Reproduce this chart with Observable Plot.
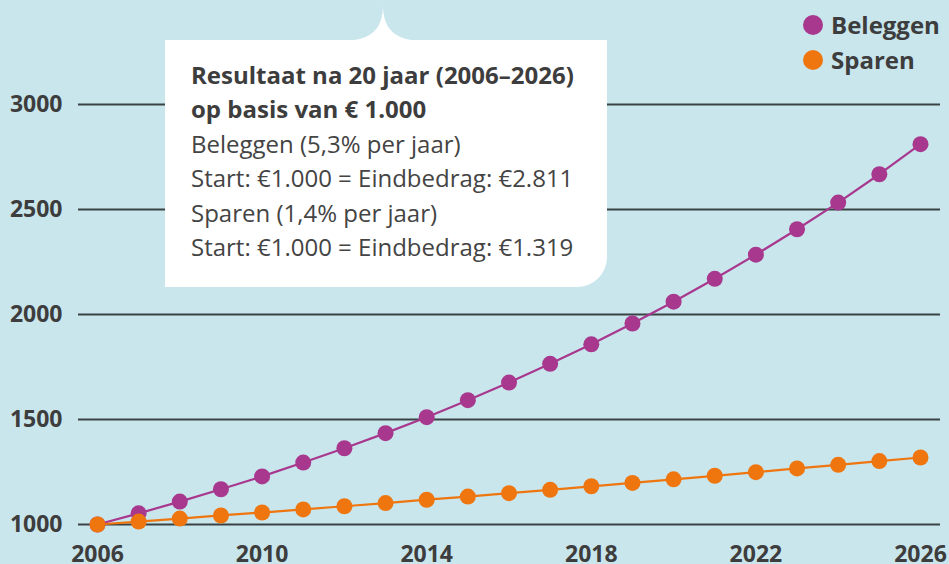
<!DOCTYPE html>
<html>
<head>
<meta charset="utf-8">
<script src="https://cdn.jsdelivr.net/npm/d3@7"></script>
<script src="https://cdn.jsdelivr.net/npm/@observablehq/plot@0.6"></script>
<style>
  html, body { margin: 0; padding: 0; background: #c9e6ed; }
  #wrap { position: relative; width: 949px; height: 564px; overflow: hidden; font-family: "Open Sans", sans-serif; color: #3d3d3d; }
  #tip { position: absolute; left: 165px; top: 40px; width: 442px; height: 247px; background: #fff; border-radius: 0 0 30px 0; box-sizing: border-box; padding: 18px 0 0 26px; font-size: 24px; line-height: 34.4px; color: #444; white-space: nowrap; }
  #tip b { font-weight: 700; color: #3d3d3d; }
  #notch { position: absolute; left: 0; top: 0; }
  #legend { position: absolute; left: 803px; top: 7px; font-size: 24px; font-weight: 700; line-height: 35px; color: #3d3d3d; }
  #legend div { display: flex; align-items: center; }
  #legend span.dot { display: inline-block; width: 20px; height: 20px; border-radius: 50%; margin-right: 8px; }
</style>
</head>
<body>
<div id="wrap"></div>
<script>
const years = [2006,2007,2008,2009,2010,2011,2012,2013,2014,2015,2016,2017,2018,2019,2020,2021,2022,2023,2024,2025,2026];
const beleggen = [1000,1053,1109,1168,1229,1295,1363,1435,1511,1592,1676,1765,1858,1957,2061,2170,2285,2406,2533,2668,2811];
const sparen = [1000,1014,1028,1043,1057,1072,1087,1102,1118,1133,1149,1165,1182,1198,1215,1232,1249,1267,1284,1302,1319];
const seriesNames = ["Beleggen", "Sparen"];
const seriesColors = ["#a8388e", "#ef760f"];
const yTicks = [1000,1500,2000,2500,3000];
const xTicks = [2006,2010,2014,2018,2022,2026];
const tipTitle = ["Resultaat na 20 jaar (2006–2026)", "op basis van € 1.000"];
const tipLines = ["Beleggen (5,3% per jaar)", "Start: €1.000 = Eindbedrag: €2.811", "Sparen (1,4% per jaar)", "Start: €1.000 = Eindbedrag: €1.319"];

const data = [];
years.forEach((y, i) => {
  data.push({year: y, value: beleggen[i], series: seriesNames[0]});
});
years.forEach((y, i) => {
  data.push({year: y, value: sparen[i], series: seriesNames[1]});
});

const chart = Plot.plot({
  width: 949,
  height: 564,
  marginLeft: 97,
  marginRight: 29,
  marginTop: 104,
  marginBottom: 40,
  style: { background: "#c9e6ed", fontFamily: "Open Sans, sans-serif", fontSize: "23px", fontWeight: "700", color: "#3d3d3d", overflow: "visible" },
  x: { domain: [2006, 2026], label: null },
  y: { domain: [1000, 3000], label: null },
  color: { domain: seriesNames, range: seriesColors },
  marks: [
    Plot.ruleY(yTicks, { stroke: "#3a4244", strokeWidth: 2, insetLeft: -19, insetRight: -20 }),
    Plot.axisY({ ticks: yTicks, tickSize: 0, tickPadding: 35, tickFormat: "d", fontSize: 23, fontWeight: "bold", label: null }),
    Plot.axisX({ ticks: xTicks, tickSize: 0, tickPadding: 21, tickFormat: "d", fontSize: 23, fontWeight: "bold", label: null }),
    Plot.line(data, { x: "year", y: "value", z: "series", stroke: "series", strokeWidth: 2.2 }),
    Plot.dot(data, { x: "year", y: "value", fill: "series", r: 8, stroke: "none" })
  ]
});

const wrap = document.getElementById("wrap");
wrap.appendChild(chart);

// notch
const ns = "http://www.w3.org/2000/svg";
const notch = document.createElementNS(ns, "svg");
notch.setAttribute("id", "notch");
notch.setAttribute("width", 949);
notch.setAttribute("height", 60);
const p = document.createElementNS(ns, "path");
p.setAttribute("d", "M 341 41 C 370 41, 383 30, 383 5 C 383 30, 396 41, 425 41 Z");
p.setAttribute("fill", "#fff");
notch.appendChild(p);
wrap.appendChild(notch);

const tip = document.createElement("div");
tip.id = "tip";
tip.innerHTML = tipTitle.map(t => `<b>${t}</b>`).join("<br>") + "<br>" + tipLines.join("<br>");
wrap.appendChild(tip);

const legend = document.createElement("div");
legend.id = "legend";
legend.innerHTML = seriesNames.map((n, i) => `<div><span class="dot" style="background:${seriesColors[i]}"></span>${n}</div>`).join("");
wrap.appendChild(legend);
</script>
</body>
</html>
